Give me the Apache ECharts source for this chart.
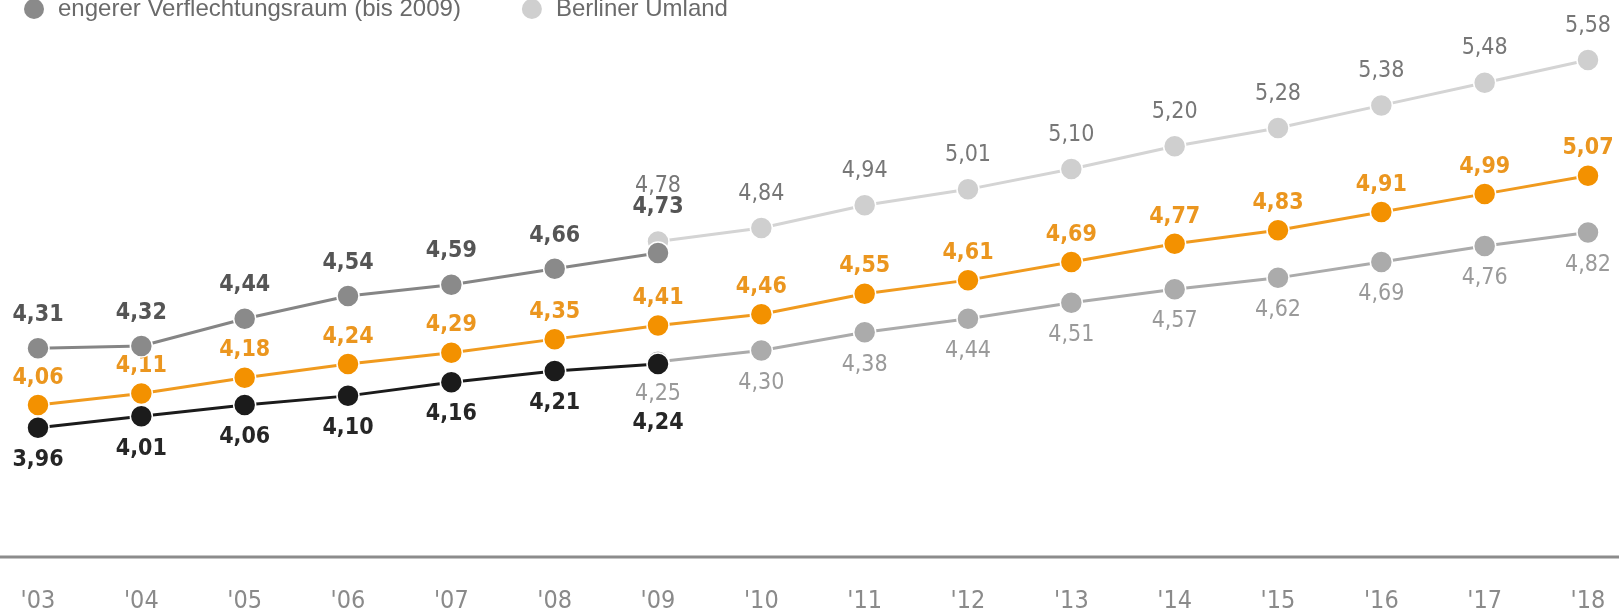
<!DOCTYPE html>
<html>
<head>
<meta charset="utf-8">
<script src="https://cdn.jsdelivr.net/npm/echarts@6/dist/echarts.min.js"></script>
<style>
  html, body { margin: 0; padding: 0; background: #fff; }
  #chart { width: 1619px; height: 615px; }
</style>
</head>
<body>
<div id="chart"></div>
<script>
// Jahre
const years = ["'03", "'04", "'05", "'06", "'07", "'08", "'09", "'10", "'11", "'12", "'13", "'14", "'15", "'16", "'17", "'18"];

// Werte je Reihe (null = kein Wert)
const engererRaum = [4.31, 4.32, 4.44, 4.54, 4.59, 4.66, 4.73, null, null, null, null, null, null, null, null, null];
const aeussererRaum = [3.96, 4.01, 4.06, 4.10, 4.16, 4.21, 4.24, null, null, null, null, null, null, null, null, null];
const brandenburg = [4.06, 4.11, 4.18, 4.24, 4.29, 4.35, 4.41, 4.46, 4.55, 4.61, 4.69, 4.77, 4.83, 4.91, 4.99, 5.07];
const umland = [null, null, null, null, null, null, 4.78, 4.84, 4.94, 5.01, 5.10, 5.20, 5.28, 5.38, 5.48, 5.58];
const metropolenraum = [null, null, null, null, null, null, 4.25, 4.30, 4.38, 4.44, 4.51, 4.57, 4.62, 4.69, 4.76, 4.82];

const FONT = '"DejaVu Sans Condensed", "DejaVu Sans", sans-serif';
const fmt = p => p.value == null ? '' : p.value.toFixed(2).replace('.', ',');

// Label of the 2009 point pushed further away where two points overlap
function withOffset(values, idx, distance) {
  return values.map((v, i) => i === idx ? { value: v, label: { distance } } : v);
}

function lineSeries(name, data, color, lineColor, label, z) {
  return {
    name,
    type: 'line',
    data,
    z,
    clip: false,
    symbol: 'circle',
    symbolSize: 22,
    showAllSymbol: true,
    connectNulls: false,
    animation: false,
    lineStyle: { color: lineColor, width: 3 },
    itemStyle: { color, borderColor: '#fff', borderWidth: 1.5 },
    label: Object.assign({ show: true, formatter: fmt, fontFamily: FONT, fontSize: 23 }, label),
    emphasis: { disabled: true }
  };
}

const chart = echarts.init(document.getElementById('chart'));
chart.setOption({
  backgroundColor: '#fff',
  animation: false,
  legend: {
    data: ['engerer Verflechtungsraum (bis 2009)', 'Berliner Umland'],
    left: 19,
    top: -8,
    icon: 'circle',
    itemWidth: 20,
    itemHeight: 20,
    itemGap: 61,
    selectedMode: false,
    itemStyle: { borderWidth: 0 },
    textStyle: {
      fontFamily: '"Liberation Sans Narrow", sans-serif',
      fontSize: 24,
      color: '#6a6a6a',
      padding: [0, 0, 0, 9]
    }
  },
  grid: { left: 38, right: 31, top: 60, bottom: 58 },
  graphic: [{
    type: 'line',
    shape: { x1: 0, y1: 557, x2: 1619, y2: 557 },
    style: { stroke: '#8c8c8c', lineWidth: 3 },
    silent: true
  }],
  xAxis: {
    type: 'category',
    data: years,
    boundaryGap: false,
    axisTick: { show: false },
    axisLine: { show: false },
    axisLabel: {
      color: '#8a8a8a',
      fontFamily: '"DejaVu Sans Condensed", "DejaVu Sans", sans-serif',
      fontWeight: 300,
      fontSize: 25,
      margin: 32
    }
  },
  yAxis: {
    type: 'value',
    min: 3.39,
    max: 5.58,
    show: false,
    splitLine: { show: false }
  },
  series: [
    lineSeries('Berliner Umland', withOffset(umland, 6, 32), '#cfcfcf', '#d4d4d4',
      { position: 'top', distance: 11, color: '#777' }, 2),
    lineSeries('weiterer Metropolenraum', metropolenraum, '#ababab', '#ababab',
      { position: 'bottom', distance: 9, color: '#9a9a9a', fontWeight: 300 }, 2),
    lineSeries('Land Brandenburg', brandenburg, '#f39100', '#f09a1e',
      { position: 'top', distance: 4, color: '#eb961f', fontWeight: 'bold' }, 3),
    lineSeries('engerer Verflechtungsraum (bis 2009)', withOffset(engererRaum, 6, 23), '#8a8a8a', '#858585',
      { position: 'top', distance: 10, color: '#555', fontWeight: 'bold' }, 4),
    lineSeries('äußerer Entwicklungsraum (bis 2009)', withOffset(aeussererRaum, 6, 36), '#1b1b1b', '#1b1b1b',
      { position: 'bottom', distance: 9, color: '#262626', fontWeight: 'bold' }, 4)
  ]
});
</script>
</body>
</html>
